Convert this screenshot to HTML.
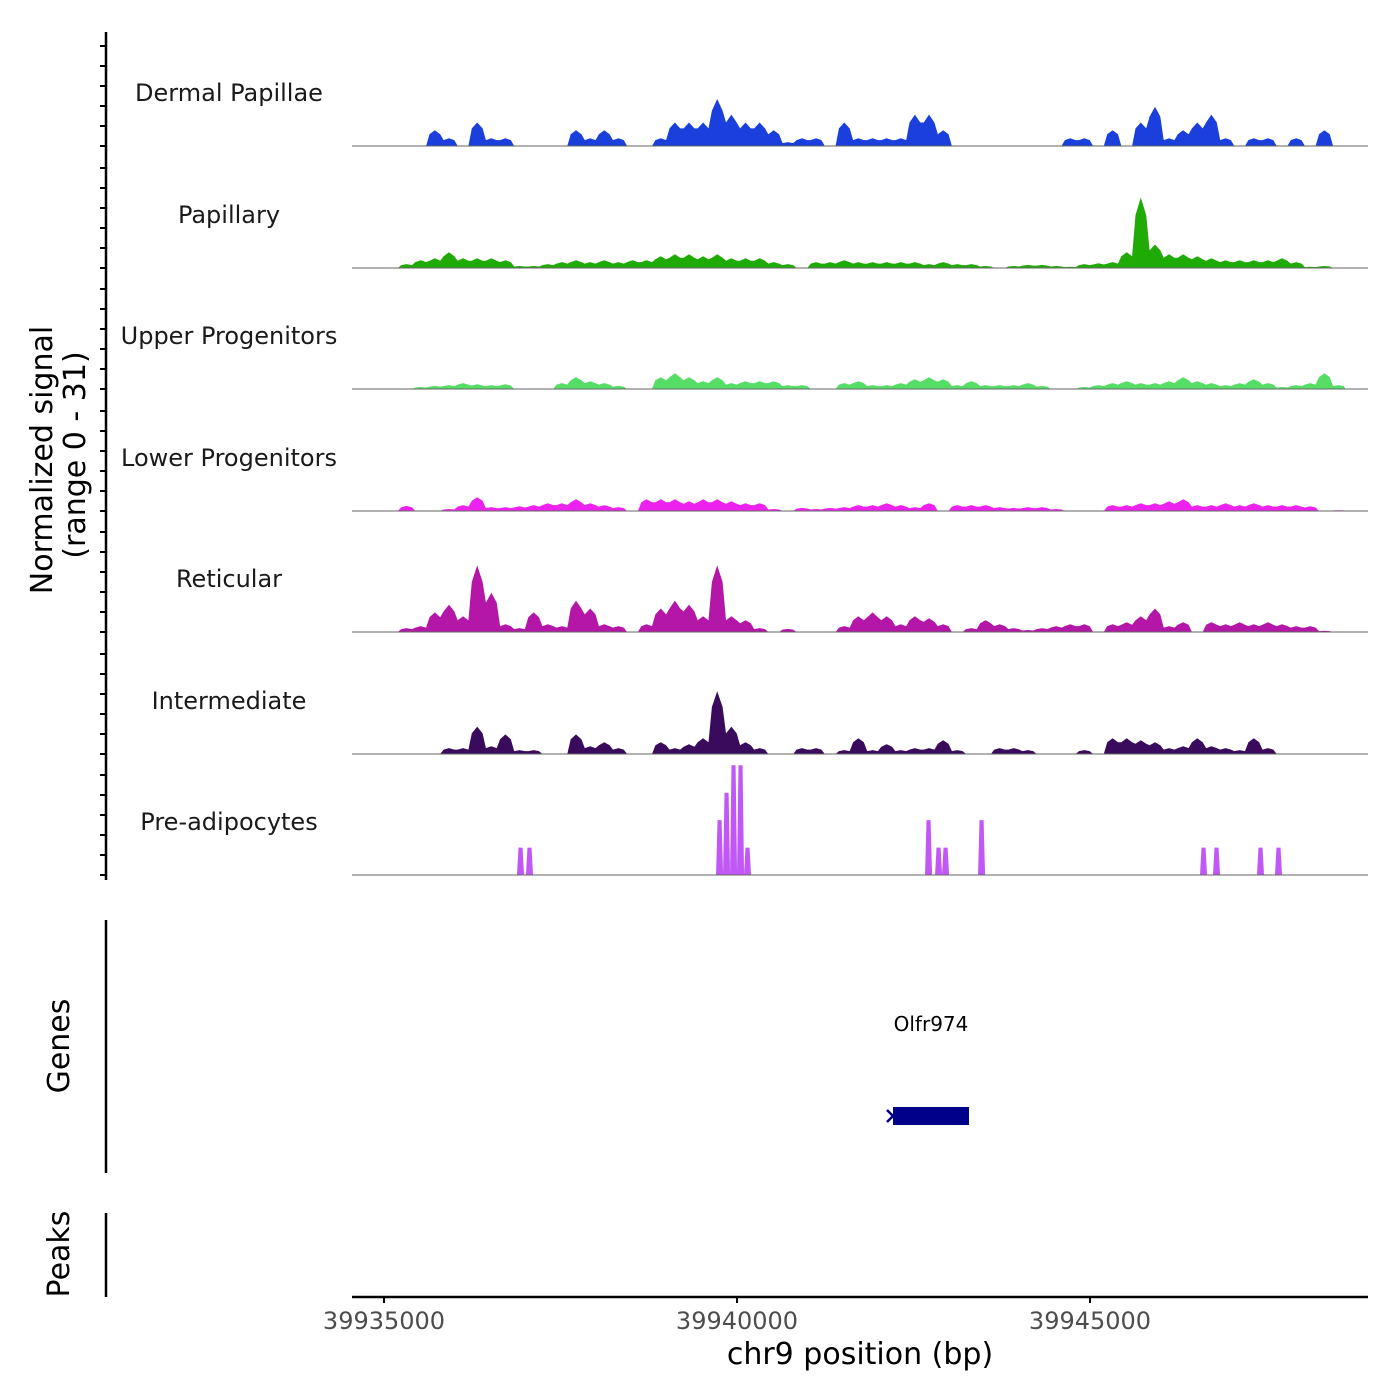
<!DOCTYPE html>
<html><head><meta charset="utf-8"><style>
html,body{margin:0;padding:0;background:#fff;}
svg{display:block;font-family:"DejaVu Sans","Liberation Sans",sans-serif;}
</style></head><body>
<svg id="chart" width="1400" height="1400" viewBox="0 0 1400 1400" xmlns="http://www.w3.org/2000/svg" style="position:absolute;left:0;top:0">
<g id="tracks"></g>
<g id="axes"></g>
<text x="860" y="1364" text-anchor="middle" font-size="30" fill="#000">chr9 position (bp)</text>
<text transform="translate(52,460) rotate(-90)" text-anchor="middle" font-size="30" fill="#000">Normalized signal</text>
<text transform="translate(85,455) rotate(-90)" text-anchor="middle" font-size="30" fill="#000">(range 0 - 31)</text>
<text transform="translate(69,1046) rotate(-90)" text-anchor="middle" font-size="30" fill="#000">Genes</text>
<text transform="translate(69,1254) rotate(-90)" text-anchor="middle" font-size="30" fill="#000">Peaks</text>
<text x="931" y="1031" text-anchor="middle" font-size="20" fill="#000">Olfr974</text>
<rect x="893" y="1107" width="76" height="18" fill="#00008b"/>
<path d="M887,1110 L893,1116 L887,1122" fill="none" stroke="#00008b" stroke-width="2.5"/>
</svg>
<script>
const START = 39935000;
const BIN = 200;
const trackNames = ["Dermal Papillae","Papillary","Upper Progenitors","Lower Progenitors","Reticular","Intermediate","Pre-adipocytes"];
const trackColors = ["#1a3fdd","#1faa06","#55dd66","#ee22ee","#b416a8","#3a0a5c","#c158f5"];
const dermalPapillae = [0,0,0,4,2,0,6,2,2,0,0,0,0,4,2,4,2,0,0,2,6,6,6,12,8,6,6,4,1,2,2,0,6,2,2,2,2,8,8,4,0,0,0,0,0,0,0,0,2,2,0,4,0,6,10,2,4,6,8,2,0,2,2,0,2,0,4,0];
const papillary = [0,1,2,2.5,4,2.5,2.5,2.5,2,0.5,0.5,1,1.5,2,1.5,2,1.5,2,2,3,3.5,3.5,3,3.5,2.5,2.5,2.5,1.5,1,0,1.5,1.5,2,1.5,1.5,1.5,1.5,1.5,1,1.5,1,1,0.5,0,0.5,0.8,0.8,0.5,0.3,1,1.2,1.5,4,18,6,3.5,3.5,3,2.5,2,2,2,2,2.5,1.5,0.3,0.5,0];
const upperProgenitors = [0,0,0.5,0.8,1,1.5,1.2,1,1.2,0,0,0,1.5,3,2,1.5,0.8,0,0,3,4,3,2,3,1.5,2,2,2,1,1,0,0,1.5,2,1,1,1.5,2.5,3,2.5,1,2,1,1,1,1.5,0.8,0,0,0.5,1,1.5,2,1.5,1.5,2,3,2,1.5,1,1.5,2.5,1.5,0.5,1,1.5,4,1];
const lowerProgenitors = [0,1.3,0,0,0.5,1.5,3.5,1,1,1.2,1.5,2,2,3,2,1.5,1,0,3,3,3,2.5,3,3,2.5,2,2,0.5,0,0.8,0.5,0.8,1,1.5,1.5,2,1.5,1,2,0,1.5,1.5,1.5,1,0.8,1,1,0.5,0,0,0,1.5,1.5,2,2,2.5,3,1.5,1.5,2,1.5,2,1.5,1.5,1.5,1.2,0,0.2];
const reticular = [0,1,1.5,5,7,4,17,10,2,1,5,2,1.5,8,6,2,1.5,0,2,6,8,7,4,17,4,3,1,0,0.8,0,0,0,1.5,4,5,4,2,4,3.5,2,0,1,3,2,1,0.5,1,1.5,2,2,0,2,2.5,4,6,1.5,2.5,0,2.5,2,2.5,2,2.5,2,1.5,1.5,0.3,0];
const intermediate = [0,0,0,0,1.5,1.5,7,2,5,1,1,0,0,5,2,3,1.5,0,0,3,1.5,2.5,4,16,7,3,1.5,0,0,1.5,1.5,0,1,4,1,2.5,1,1.5,1.5,3.5,1,0,0,1.5,1.5,1,0,0,0,1,0,4,4,3.5,3,1.5,2,4,2,1.5,1,4,1.5,0,0,0,0,0];
const preadPos = [39936884,39937011,39939703,39939802,39939901,39940000,39940099,39942663,39942805,39942904,39943414,39946558,39946742,39947365,39947620];
const preadVal = [7,7,14,21,28,28,7,14,7,7,14,7,7,7,7];
const xTicks = [39935000,39940000,39945000];
const yMax = 31;

const NS = "http://www.w3.org/2000/svg";
const tracksG = document.getElementById("tracks");
const axesG = document.getElementById("axes");
const X0 = 352, X1 = 1368;
const SHIFT = 20;
function xScale(bp){ return 384 + (bp - START) * 353 / 5000; }
const baselines = [146,268,389,511,632,754,875];
const trackH = 121.5;
function yScale(v, base){ return base - v / yMax * trackH; }
function mk(tag, attrs, parent){ const e = document.createElementNS(NS, tag); for (const k in attrs) e.setAttribute(k, attrs[k]); parent.appendChild(e); return e; }

const series = [dermalPapillae, papillary, upperProgenitors, lowerProgenitors, reticular, intermediate];
series.forEach((vals, t) => {
  const base = baselines[t];
  let pts = [];
  vals.forEach((v, i) => {
    const xa = xScale(START + i * BIN + SHIFT), xb = xScale(START + (i + 1) * BIN + SHIFT);
    const w = xb - xa;
    pts.push([xa + w * 0.12, yScale(v * 0.75, base)]);
    pts.push([xa + w * 0.5, yScale(v, base)]);
    pts.push([xa + w * 0.88, yScale(v * 0.75, base)]);
  });
  let d = "M" + xScale(START + SHIFT) + "," + base;
  pts.forEach(p => { d += " L" + p[0].toFixed(1) + "," + p[1].toFixed(1); });
  d += " L" + xScale(START + vals.length * BIN + SHIFT) + "," + base + " Z";
  const p = mk("path", {d: d, fill: trackColors[t]}, tracksG);
  
  
});
preadPos.forEach((bp, i) => {
  const base = baselines[6];
  const xa = xScale(bp), xb = xScale(bp + 100), yt = yScale(preadVal[i], base);
  const p = mk("path", {d: `M${xa},${base} L${xa+1.5},${yt} L${xb-1.5},${yt} L${xb},${base} Z`, fill: trackColors[6]}, tracksG);
  
  
});
baselines.forEach((b, t) => {
  const l = mk("line", {x1: X0, x2: X1, y1: b, y2: b, stroke: "#666", "stroke-width": 1}, axesG);
  
  
  const tx = mk("text", {x: 229, y: b - 45, "text-anchor": "middle", "font-size": 24, fill: "#1a1a1a"}, axesG);
  tx.textContent = trackNames[t];
  
  
});
mk("line", {x1: 106, x2: 106, y1: 32, y2: 880, stroke: "#000", "stroke-width": 2.5}, axesG);
baselines.forEach(b => {
  for (let k = 0; k < 6; k++) {
    const y = b - k * 20;
    if (y < 32) continue;
    mk("line", {x1: 100, x2: 106, y1: y, y2: y, stroke: "#000", "stroke-width": 2}, axesG);
  }
});
mk("line", {x1: 106, x2: 106, y1: 920, y2: 1173, stroke: "#000", "stroke-width": 2.5}, axesG);
mk("line", {x1: 106, x2: 106, y1: 1213, y2: 1297, stroke: "#000", "stroke-width": 2.5}, axesG);
mk("line", {x1: X0, x2: X1, y1: 1297, y2: 1297, stroke: "#000", "stroke-width": 2.5}, axesG);
xTicks.forEach(v => {
  const x = xScale(v);
  mk("line", {x1: x, x2: x, y1: 1297, y2: 1303, stroke: "#000", "stroke-width": 2}, axesG);
  const t = mk("text", {x: x, y: 1329, "text-anchor": "middle", "font-size": 24, fill: "#4d4d4d"}, axesG);
  t.textContent = v;
  
  
});
</script>
</body></html>
